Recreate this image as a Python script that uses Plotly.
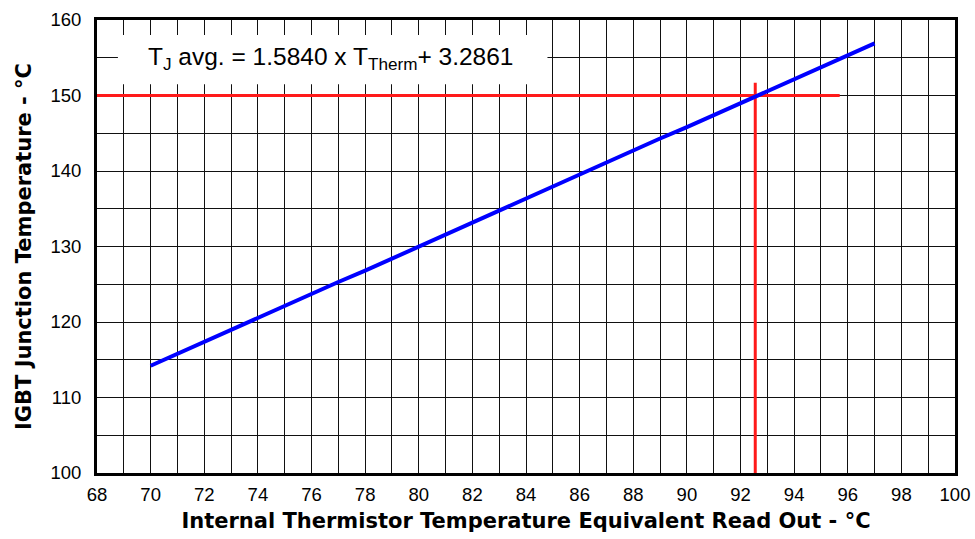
import plotly.graph_objects as go

# Data
therm_temp = [70, 71, 72, 73, 74, 75, 76, 77, 78, 79, 80, 81, 82, 83, 84,
              85, 86, 87, 88, 89, 90, 91, 92, 93, 94, 95, 96, 97]
junction_temp = [114.2, 115.8, 117.3, 118.9, 120.5, 122.1, 123.7, 125.3, 126.8, 128.4,
                 130.0, 131.6, 133.2, 134.8, 136.3, 137.9, 139.5, 141.1, 142.7, 144.3,
                 145.8, 147.4, 149.0, 150.6, 152.2, 153.8, 155.3, 156.9]
marker_h_x = [68, 95.7]
marker_h_y = [150, 150]
marker_v_x = [92.55, 92.55]
marker_v_y = [100, 151.7]
x_ticks = list(range(68, 101, 2))
y_ticks = list(range(100, 161, 10))

FONT = "Liberation Sans"
TITLE_FONT = "DejaVu Sans"

fig = go.Figure()
fig.add_trace(go.Scatter(x=marker_h_x, y=marker_h_y, mode="lines",
                         line=dict(color="#ff1a1a", width=3), hoverinfo="skip"))
fig.add_trace(go.Scatter(x=marker_v_x, y=marker_v_y, mode="lines",
                         line=dict(color="#ff1a1a", width=3), hoverinfo="skip"))
fig.add_trace(go.Scatter(x=therm_temp, y=junction_temp, mode="lines",
                         line=dict(color="#0000ff", width=4)))

fig.add_shape(type="rect", xref="x", yref="y", x0=68.78, x1=84.8, y0=151.5, y1=158.0,
              fillcolor="white", line=dict(width=0), layer="above")
fig.add_annotation(x=76.73, y=154.9, xref="x", yref="y", showarrow=False,
                   text="T<sub>J</sub> avg. = 1.5840 x T<sub>Therm</sub>+ 3.2861",
                   font=dict(family=FONT, size=24.5, color="black"))

fig.update_layout(
    width=975, height=539,
    margin=dict(l=97, r=20, t=20, b=66),
    paper_bgcolor="white", plot_bgcolor="white",
    showlegend=False,
    font=dict(family=FONT, color="black", size=18.5),
)
fig.update_xaxes(
    range=[68, 100], tickvals=x_ticks, ticks="", showgrid=True, gridcolor="#111", gridwidth=1,
    minor=dict(dtick=1, showgrid=True, gridcolor="#111", gridwidth=1),
    showline=True, linecolor="black", linewidth=3, mirror=True, zeroline=False,
    tickfont=dict(size=18.5), automargin=False, ticklabelstandoff=3,
    title=dict(text="<b>Internal Thermistor Temperature Equivalent Read Out - °C</b>",
               font=dict(family=TITLE_FONT, size=21), standoff=10),
)
fig.update_yaxes(
    range=[100, 160], tickvals=y_ticks, ticks="", showgrid=True, gridcolor="#111", gridwidth=1,
    minor=dict(dtick=5, showgrid=True, gridcolor="#111", gridwidth=1),
    showline=True, linecolor="black", linewidth=3, mirror=True, zeroline=False,
    tickfont=dict(size=18.5), automargin=False, ticklabelstandoff=9,
    title=dict(text="<b>IGBT Junction Temperature - °C</b>",
               font=dict(family=TITLE_FONT, size=21), standoff=14),
)

fig.write_html("out.html", config={"displayModeBar": False},
               post_script="document.body.style.margin='0px';document.body.style.overflow='hidden';")
